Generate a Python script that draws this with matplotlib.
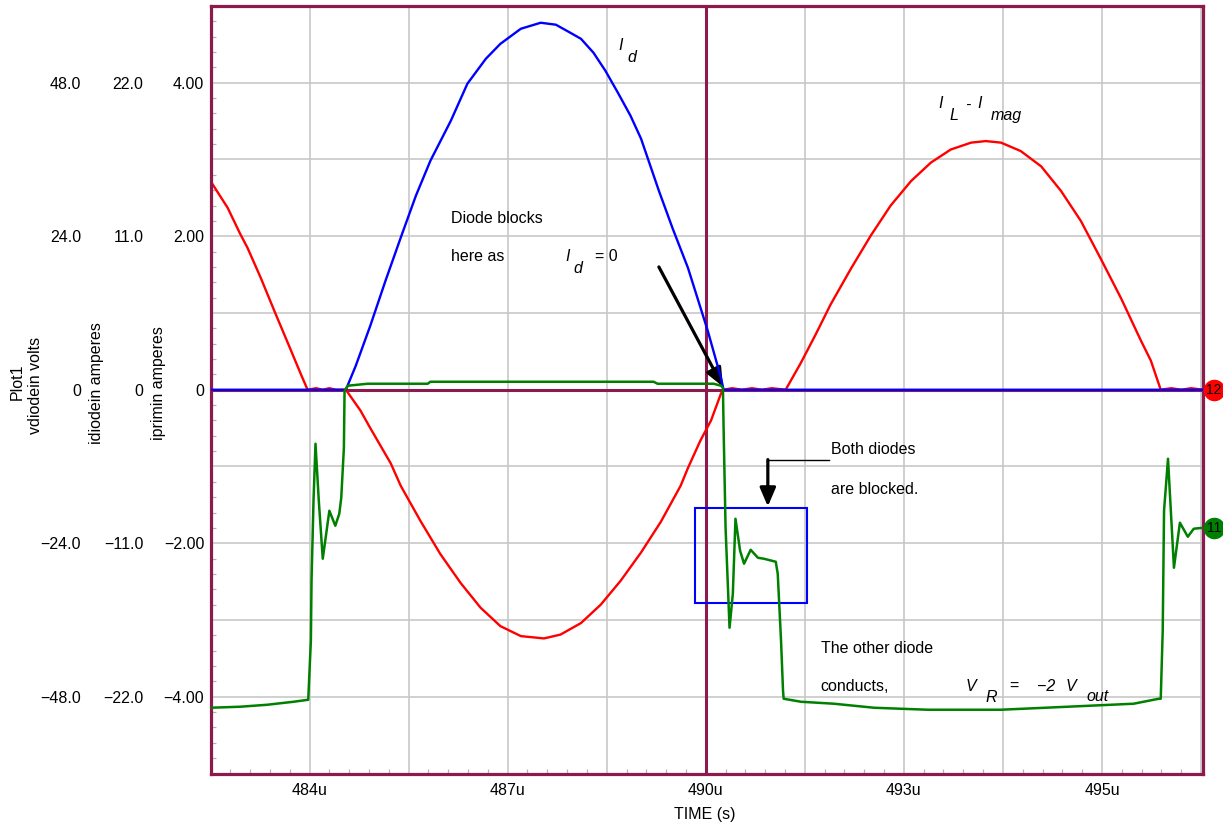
import matplotlib
matplotlib.use('Agg')
import matplotlib.pyplot as plt
from matplotlib.ticker import MultipleLocator
from matplotlib.patches import Rectangle

plt.rcParams['font.family'] = ['Liberation Sans', 'DejaVu Sans']

# ---------------- data (time in microseconds) ----------------
t_iprim = [482.50, 482.76, 482.95, 483.06, 483.26, 483.48, 483.71, 483.86, 483.97, 484.10,
           484.20, 484.30, 484.40, 484.55, 484.77, 484.92, 485.23, 485.38, 485.68, 485.98,
           486.29, 486.59, 486.89, 487.20, 487.55, 487.80, 488.11, 488.41, 488.71, 489.02,
           489.32, 489.62, 489.73, 489.92, 490.08, 490.23, 490.27, 490.40, 490.55, 490.70,
           490.85, 491.00, 491.21, 491.44, 491.67, 491.89, 492.20, 492.50, 492.80, 493.11,
           493.41, 493.71, 494.02, 494.24, 494.47, 494.77, 495.08, 495.38, 495.68, 495.98,
           496.29, 496.59, 496.74, 496.89, 497.05, 497.20, 497.35, 497.53]
iprim = [2.72, 2.37, 2.03, 1.85, 1.46, 1.00, 0.53, 0.22, 0.00, 0.02,
         0.00, 0.02, 0.00, 0.00, -0.27, -0.50, -0.96, -1.25, -1.71, -2.14,
         -2.52, -2.84, -3.08, -3.21, -3.24, -3.19, -3.04, -2.80, -2.49, -2.12,
         -1.72, -1.25, -1.02, -0.66, -0.40, -0.05, 0.00, 0.02, 0.00, 0.02,
         0.00, 0.02, 0.00, 0.35, 0.73, 1.11, 1.58, 2.01, 2.40, 2.72,
         2.96, 3.13, 3.22, 3.24, 3.22, 3.11, 2.91, 2.59, 2.20, 1.71,
         1.19, 0.64, 0.38, 0.00, 0.02, 0.00, 0.02, 0.00]

t_idiode = [482.50, 484.55, 484.70, 484.92, 485.15, 485.38, 485.61, 485.83, 486.14, 486.39,
            486.67, 486.89, 487.20, 487.50, 487.73, 487.95, 488.11, 488.30, 488.48, 488.67,
            488.86, 489.02, 489.29, 489.50, 489.73, 490.03, 490.23, 490.27, 497.53]
idiode = [0.00, 0.00, 1.72, 4.59, 7.81, 10.89, 13.90, 16.41, 19.28, 21.93,
          23.72, 24.79, 25.87, 26.30, 26.16, 25.58, 25.15, 24.15, 22.86, 21.28,
          19.64, 17.99, 14.26, 11.54, 8.74, 4.23, 0.86, 0.00, 0.00]

t_vdiode = [482.50, 482.95, 483.36, 483.76, 483.98, 484.02, 484.03, 484.06, 484.09, 484.14,
            484.20, 484.30, 484.39, 484.45, 484.48, 484.52, 484.53, 484.58, 484.88, 485.79,
            485.83, 489.21, 489.27, 490.12, 490.23, 490.26, 490.27, 490.30, 490.36, 490.41,
            490.45, 490.52, 490.58, 490.68, 490.79, 490.88, 491.06, 491.09, 491.14, 491.17,
            491.18, 491.44, 491.94, 492.55, 493.36, 494.47, 495.48, 496.48, 496.86, 496.89,
            496.92, 496.94, 497.00, 497.09, 497.18, 497.30, 497.39, 497.53]
vdiode = [-49.72, -49.56, -49.25, -48.78, -48.47, -39.24, -29.86, -17.35, -8.44, -17.35,
          -26.42, -18.92, -21.26, -19.39, -16.89, -9.07, -0.16, 0.63, 0.94, 0.94,
          1.25, 1.25, 0.94, 0.94, 0.63, 0.31, -5.94, -21.58, -37.21, -31.90,
          -20.17, -25.17, -27.20, -25.02, -26.27, -26.42, -26.89, -28.77, -39.24, -47.06,
          -48.31, -48.78, -49.09, -49.72, -50.03, -50.03, -49.56, -49.09, -48.31, -48.31,
          -37.68, -18.92, -10.79, -27.83, -20.79, -22.98, -21.73, -21.58]

x_ticks = [482.5, 484, 485.5, 487, 488.5, 490, 491.5, 493, 494.5, 496, 497.5]
x_labels = ['', '484u', '', '487u', '', '490u', '', '493u', '', '495u', '']
iprim_ticks = [-5, -4, -3, -2, -1, 0, 1, 2, 3, 4, 5]
iprim_labels = ['', '\u22124.00', '', '\u22122.00', '', '0', '', '2.00', '', '4.00', '']
idiode_ticks = [-22, -11, 0, 11, 22]
idiode_labels = ['\u221222.0', '\u221211.0', '0', '11.0', '22.0']
vdiode_ticks = [-48, -24, 0, 24, 48]
vdiode_labels = ['\u221248.0', '\u221224.0', '0', '24.0', '48.0']

# ---------------- style ----------------
W, H = 1223, 827
maroon = '#8c1a4c'
grid_c = '#c8c8c8'
fs = 11.5

fig = plt.figure(figsize=(W / 100, H / 100), dpi=100)
x0, x1, y0, y1 = 210.5, 1203, 6, 773.5
ax = fig.add_axes([x0 / W, 1 - y1 / H, (x1 - x0) / W, (y1 - y0) / H])
ax.set_xlim(482.5, 497.53)
ax.set_ylim(-5, 5)
for s in ax.spines.values():
    s.set_color(maroon)
    s.set_linewidth(2.3)
ax.set_xticks(x_ticks)
ax.set_xticklabels(x_labels)
ax.set_yticks(iprim_ticks)
ax.set_yticklabels(iprim_labels)
ax.grid(True, which='major', color=grid_c, lw=1.2)
ax.set_axisbelow(True)
ax.tick_params(which='major', length=0, labelsize=fs)
ax.tick_params(axis='x', which='major', pad=7)
ax.tick_params(axis='y', which='major', pad=4.5)
ax.xaxis.set_minor_locator(MultipleLocator(0.3, offset=0.1))
ax.yaxis.set_minor_locator(MultipleLocator(0.2))
ax.tick_params(which='minor', direction='in', length=3.6, color='#b4b4b4', width=0.9)

# reference lines (zero + cursor)
ax.axhline(0, color=maroon, lw=2.2, zorder=1.5)
ax.axvline(490, color=maroon, lw=2.2, zorder=1.5)

ax.plot(t_iprim, iprim, color='#ff0000', lw=1.7, zorder=2)

ax2 = ax.twinx()
ax2.set_ylim(-27.5, 27.5)
ax2.yaxis.tick_left()
ax2.spines['left'].set_position(('outward', 43.9))
for s in ax2.spines.values():
    s.set_visible(False)
ax2.set_yticks(idiode_ticks)
ax2.set_yticklabels(idiode_labels)
ax2.tick_params(axis='y', length=0, pad=4.5, labelsize=fs)
ax2.plot(t_idiode, idiode, color='#0000ff', lw=1.7)

ax3 = ax.twinx()
ax3.set_ylim(-60, 60)
ax3.yaxis.tick_left()
ax3.spines['left'].set_position(('outward', 88.6))
for s in ax3.spines.values():
    s.set_visible(False)
ax3.set_yticks(vdiode_ticks)
ax3.set_yticklabels(vdiode_labels)
ax3.tick_params(axis='y', length=0, pad=4.5, labelsize=fs)
ax3.plot(t_vdiode, vdiode, color='#008000', lw=1.8)

# end markers
mx = 497.70
ax3.plot([mx], [iprim[-1] * 12], 'o', ms=14.5, color='#ff0000', clip_on=False, zorder=5)
ax3.text(mx, iprim[-1] * 12, '12', ha='center', va='center', fontsize=10, clip_on=False, zorder=6)
ax3.plot([mx], [vdiode[-1]], 'o', ms=14.5, color='#008000', clip_on=False, zorder=5)
ax3.text(mx, vdiode[-1], '11', ha='center', va='center', fontsize=10, clip_on=False, zorder=6)

# axis titles
fig.text(705 / W, 1 - 815 / H, 'TIME (s)', ha='center', va='center', fontsize=fs)
fig.text(17 / W, 1 - 382 / H, 'Plot1', rotation=90, ha='center', va='center', fontsize=fs)
fig.text(35 / W, 1 - 385 / H, 'vdiodein volts', rotation=90, ha='center', va='center', fontsize=fs)
fig.text(97 / W, 1 - 383 / H, 'idiodein amperes', rotation=90, ha='center', va='center', fontsize=fs)
fig.text(159 / W, 1 - 383 / H, 'iprimin amperes', rotation=90, ha='center', va='center', fontsize=fs)

# annotations (in iprimin coordinates)
def t(x, y, s, italic=False):
    ax.text(x, y, s, ha='left', va='center', fontsize=fs,
            fontstyle='italic' if italic else 'normal', zorder=7)

t(488.67, 4.48, 'I', True)
t(488.82, 4.33, 'd', True)

t(493.52, 3.73, 'I', True)
t(493.69, 3.57, 'L', True)
t(493.93, 3.70, '-', True)
t(494.12, 3.73, 'I', True)
t(494.31, 3.57, 'mag', True)

t(486.14, 2.23, 'Diode blocks')
t(486.14, 1.73, 'here as')
t(487.88, 1.73, 'I', True)
t(488.00, 1.58, 'd', True)
t(488.33, 1.73, '= 0')

ax.annotate('', xy=(490.26, 0.04), xytext=(489.29, 1.60),
            arrowprops=dict(arrowstyle='-|>,head_length=0.7,head_width=0.3',
                            lw=2.3, color='black', shrinkA=0, shrinkB=0,
                            mutation_scale=16), zorder=7)

t(491.89, -0.78, 'Both diodes')
t(491.89, -1.30, 'are blocked.')
ax.plot([490.94, 491.86], [-0.91, -0.91], color='black', lw=1.0, zorder=7)
ax.annotate('', xy=(490.94, -1.52), xytext=(490.94, -0.91),
            arrowprops=dict(arrowstyle='-|>,head_length=0.7,head_width=0.3',
                            lw=2.3, color='black', shrinkA=0, shrinkB=0,
                            mutation_scale=16), zorder=7)
ax.add_patch(Rectangle((489.83, -2.775), 1.70, 1.238, fill=False,
                       edgecolor='#0000ff', lw=1.5, zorder=7))

t(491.74, -3.37, 'The other diode')
t(491.74, -3.86, 'conducts,')
t(493.94, -3.86, 'V', True)
t(494.24, -4.01, 'R', True)
t(494.60, -3.86, '=')
t(495.02, -3.86, '\u22122', True)
t(495.45, -3.86, 'V', True)
t(495.77, -4.00, 'out', True)

fig.savefig('out.png', dpi=100)
